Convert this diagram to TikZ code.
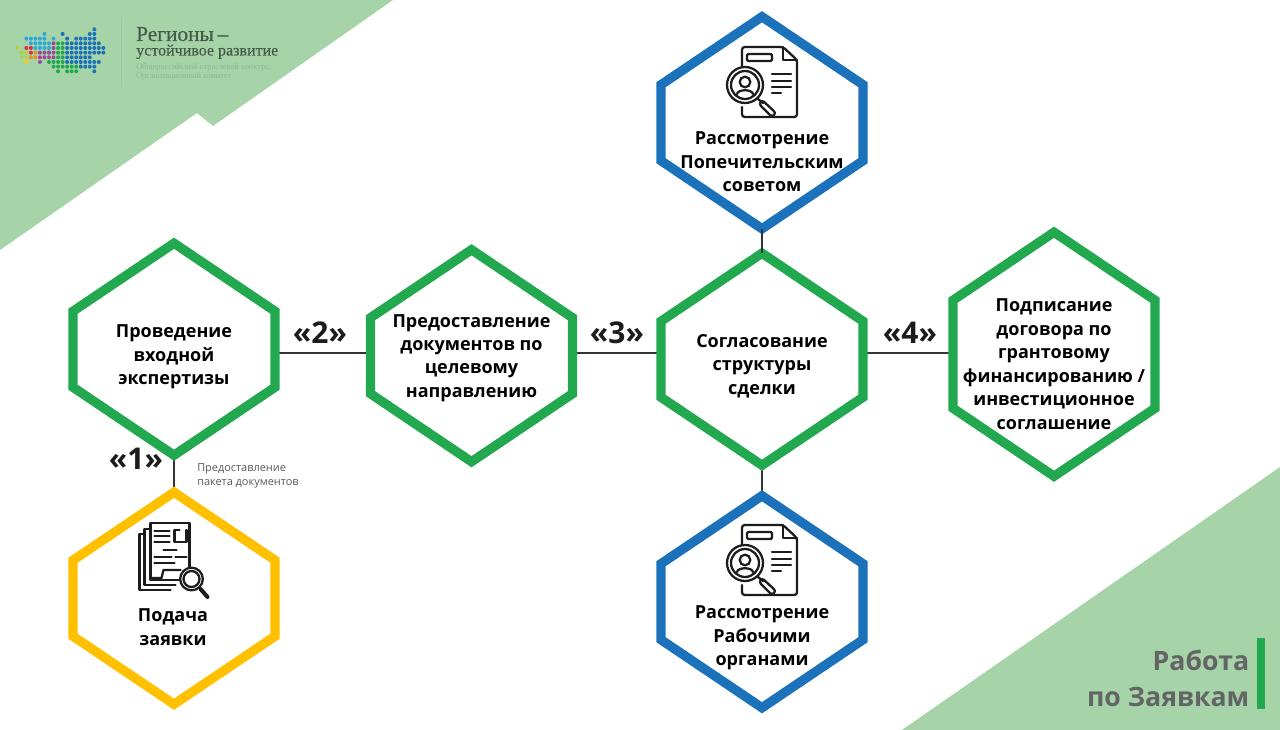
\documentclass[tikz,border=0pt]{standalone}
\usepackage{fontspec}
\setmainfont{Open Sans}
\newfontfamily\logofont[FakeBold=0.35]{Liberation Serif}
\newfontfamily\logosmall{Liberation Serif}
\usetikzlibrary{
  calc,%
  positioning
}
\definecolor{hexgreen}{HTML}{22A84F}
\definecolor{hexblue}{HTML}{1B72BA}
\definecolor{hexyellow}{HTML}{FFC000}
\definecolor{bggreen}{HTML}{A6D4A8}
\definecolor{titlegray}{HTML}{636466}
\definecolor{icondark}{HTML}{1C1C1C}
\definecolor{logotext}{HTML}{465A4A}
\definecolor{logofaint}{HTML}{90B794}
\definecolor{dotlight}{HTML}{2BA8DC}
\definecolor{dotblue}{HTML}{1B72B8}
\definecolor{dotgreen}{HTML}{22A84F}
\definecolor{dotpurple}{HTML}{A2489B}
\definecolor{dotred}{HTML}{E22B3C}
\definecolor{dotorange}{HTML}{EF8D2B}
\definecolor{dotlime}{HTML}{B7CF45}
\definecolor{dotyellow}{HTML}{F6C81E}
\tikzset{
  hexbox/.style={inner sep=0pt, minimum width=151.5pt, minimum height=159pt},
  hexline/.style={line width=7pt, line join=miter},
  hextext/.style={align=center, inner sep=0pt, text=black,
    font=\fontsize{13.5}{17.6}\selectfont\bfseries},
  steptext/.style={inner sep=0pt, text=icondark,
    font=\fontsize{22.5}{26}\selectfont\bfseries},
  link/.style={line width=1.5pt, draw=icondark!90},
  iconline/.style={line width=1.7pt, draw=icondark, line cap=round, line join=round},
  docicon/.pic={
    \draw[iconline, rounded corners=2pt] (-20, -14) -- (-20, -33) -- (21, -33) -- (35, -20) -- (35, 37) -- (-20, 37) -- (-20, 27);%
    \draw[iconline] (21, -33) -- (21, -20) -- (35, -20);%
    \draw[iconline, rounded corners=1pt] (-15, -26) rectangle (10, -19);%
    \draw[iconline] (10, -6) -- (29, -6);%
    \draw[iconline] (10, 1) -- (29, 1);%
    \draw[iconline] (10, 7) -- (29, 7);%
    \draw[iconline] (10, 13) -- (19, 13);%
    \draw[iconline, fill=white] (-17, 5) circle (13.5pt);%
    \draw[iconline] (-17, 5) circle (10.5pt);%
    \draw[iconline] (-17, 2) circle (4pt);%
    \draw[iconline] (-25, 14) .. controls (-24, 9) and (-10, 9) .. (-9, 14);%
    \draw[iconline] (-4, 19) -- (1, 23);%
    \draw[iconline, rounded corners=2pt] (0, 20) -- (14, 33) -- (10, 37) -- (-3, 24) -- cycle;%
  },
  fileicon/.pic={
    \draw[iconline] (0, -48) rectangle (39, 9);%
    \draw[iconline] (0, -42) -- (-6, -42) -- (-6, 14) -- (25, 14);%
    \draw[iconline] (-6, -37) -- (-11, -37) -- (-11, 19) -- (20, 19);%
    \draw[iconline] (4, -40) -- (19, -40);%
    \draw[iconline] (4, -35) -- (19, -35);%
    \draw[iconline] (4, -29) -- (19, -29);%
    \draw[iconline] (29, -41) -- (24, -41) -- (24, -29) -- (36, -29) -- (36, -41);%
    \draw[iconline] (13, -21) -- (26, -21);%
    \draw[iconline] (4, -14) -- (21, -14);%
    \draw[iconline] (25, -14) -- (36, -14);%
    \draw[iconline] (4, -8) -- (24, -8);%
    \draw[iconline] (0, 7) -- (11, 7) -- (13, -1) -- (30, -1);%
    \draw[iconline, fill=white] (41, 8) circle (8.5pt);%
    \draw[iconline] (41, 8) circle (6pt);%
    \draw[iconline, line width=3pt] (50, 18) -- (57, 26);%
  }
}
\newcommand{\logodots}[2]{%
  \foreach \r/\cols in {#2}
    \foreach \i in \cols
      \fill[#1] (17.3+4.53*\i, 29.3+4.67*\r) circle (1.5pt);%
}
\begin{document}
\begin{tikzpicture}[x=0.75pt, y=-0.75pt]
  \useasboundingbox (0, 0) rectangle (1280, 730);%
  \fill[white] (0, 0) rectangle (1280, 730);%
  % background corners
  \fill[bggreen] (0, 0) -- (393, 0) -- (213, 126) -- (197, 113) -- (0, 250) -- cycle;%
  \fill[bggreen] (1280, 467) -- (1280, 730) -- (902, 730) -- cycle;%
  % logo
  \logodots{dotlight}{1/{6},2/{2,3,4,5,6,8},3/{3,4,5,6,7},4/{4,5,6,7},5/{7}}%
  \logodots{dotblue}{0/{17},1/{10,16,17},2/{11,13,14,15,16,17},3/{11,12,13,14,15,16,17,18},4/{11,12,13,14,15,16,17,18,19},5/{11,12,13,14,15,16,17,18,19},6/{11,12,13,14,15,16},7/{11,12,13,14,15,16,17,18},8/{14,15,16,17},9/{17}}%
  \logodots{dotgreen}{3/{9,10},4/{9,10},5/{9,10},6/{9,10},7/{7,8,9,10},8/{8,9,10,11,12,13},9/{9,11,12,13}}%
  \logodots{dotpurple}{3/{8},4/{8},5/{5,6,7,8},6/{5,6,7,8},7/{5}}%
  \logodots{dotred}{4/{2,3},5/{3}}%
  \logodots{dotorange}{5/{4},6/{3,4}}%
  \logodots{dotlime}{4/{0},5/{1,2},6/{1,2}}%
  \logodots{dotyellow}{7/{2}}%
  \coordinate (rulea) at (121, 17);%
  \coordinate (ruleb) at (121, 87);%
  \draw[logofaint!45!bggreen, thin] (rulea) -- (ruleb);%
  \node[anchor=base west, inner sep=0pt, text depth=0pt, text=logotext, font=\logofont\fontsize{16}{18}\selectfont] (logoa) at (136, 41) {Регионы\,–};%
  \node[anchor=base west, inner sep=0pt, text=logotext, font=\logofont\fontsize{12}{14}\selectfont] (logob) at (136, 55.5) {устойчивое развитие};%
  \node[anchor=base west, inner sep=0pt, text=logofaint, font=\logosmall\fontsize{6.2}{7}\selectfont] (logoc) at (136, 70) {Общероссийский отраслевой конкурс,};%
  \node[anchor=base west, inner sep=0pt, text=logofaint, font=\logosmall\fontsize{6.2}{7}\selectfont] (logod) at (136, 79) {Организационный комитет};%
  % hexagons
  \node[hexbox] (vhod) at (174, 349.5) {};%
  \node[hexbox] (docs) at (471.5, 356) {};%
  \node[hexbox] (sogl) at (762, 359.5) {};%
  \node[hexbox, minimum height=183pt] (dogov) at (1054, 354.5) {};%
  \node[hexbox] (popech) at (762, 123) {};%
  \node[hexbox] (rabor) at (762, 602) {};%
  \node[hexbox] (zayav) at (174, 598.5) {};%
  \coordinate (bus) at (0, 353);%
  \draw[link] (vhod.east |- bus) -- (docs.west |- bus);%
  \draw[link] (docs.east |- bus) -- (sogl.west |- bus);%
  \draw[link] (sogl.east |- bus) -- (dogov.west |- bus);%
  \draw[link] (vhod.south) -- (zayav.north);%
  \draw[link] (sogl.south) -- (rabor.north);%
  \foreach \n/\c/\s in {vhod/hexgreen/38, docs/hexgreen/38, sogl/hexgreen/38, dogov/hexgreen/54, popech/hexblue/38, rabor/hexblue/38, zayav/hexyellow/38}
    \draw[hexline, \c] (\n.north) -- ++(101, 68) -- ++(0, 2*\s) -- ++(-101, 68) -- ++(-101, -68) -- ++(0, -2*\s) -- cycle;%
  \draw[link] (popech.south) -- (sogl.north);%
  % labels
  \node[hextext] (vhodtext) at (174, 357) {Проведение\\входной\\экспертизы};%
  \node[hextext] (docstext) at (471.5, 358) {Предоставление\\документов по\\целевому\\направлению};%
  \node[hextext] (sogltext) at (762, 366) {Согласование\\структуры\\сделки};%
  \node[hextext] (dogovtext) at (1054, 364) {Подписание\\договора по\\грантовому\\финансированию /\\инвестиционное\\соглашение};%
  \node[hextext] (popechtext) at (762, 162) {Рассмотрение\\Попечительским\\советом};%
  \node[hextext] (rabortext) at (762, 638) {Рассмотрение\\Рабочими\\органами};%
  \node[hextext] (zayavtext) at (173, 627) {Подача\\заявки};%
  \node[steptext] (stepa) at (136, 459) {«1»};%
  \node[steptext] (stepb) at (320, 333) {«2»};%
  \node[steptext] (stepc) at (617, 333) {«3»};%
  \node[steptext] (stepd) at (910, 333) {«4»};%
  \node[anchor=west, align=left, inner sep=0pt, text=black!65, font=\fontsize{8.2}{10.5}\selectfont] (pack) at (197, 476) {Предоставление\\пакета документов};%
  % icons
  \pic at (762, 80) {docicon};%
  \pic at (762, 558) {docicon};%
  \pic at (150.5, 571) {fileicon};%
  % title
  \node[anchor=east, align=right, inner sep=0pt, text=titlegray, font=\fontsize{20}{27}\selectfont\bfseries] (title) at (1249.5, 678) {Работа\\по Заявкам};%
  \coordinate (bara) at (1257, 638);%
  \coordinate (barb) at (1264.5, 709);%
  \fill[hexgreen] (bara) rectangle (barb);%
\end{tikzpicture}
\end{document}
